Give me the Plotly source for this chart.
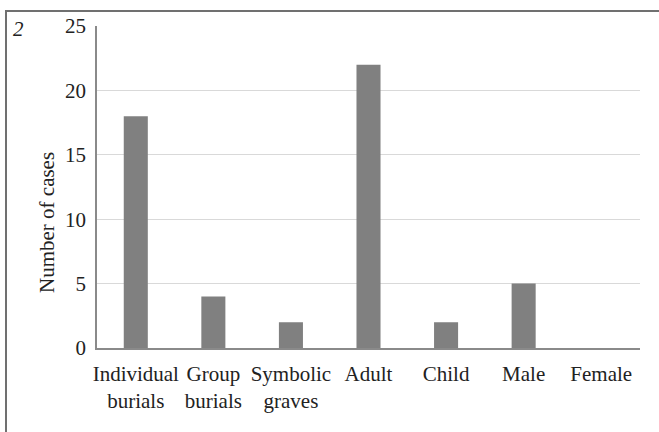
import plotly.graph_objects as go

categories = ["Individual<br>burials", "Group<br>burials", "Symbolic<br>graves", "Adult", "Child", "Male", "Female"]
values = [18, 4, 2, 22, 2, 5, 0]
y_ticks = [0, 5, 10, 15, 20, 25]

W, H = 659, 432
L, R, T, B = 97, 19, 26, 84
pw, ph = W - L - R, H - T - B

def px_x(p):
    return (p - L) / pw

def px_y(q):
    return (H - B - q) / ph

FAM = "Liberation Serif"
TXT = dict(family=FAM, size=21, color="#222222")

fig = go.Figure(go.Bar(x=categories, y=values, marker=dict(color="#808080", line=dict(width=0)), width=0.31))

fig.update_layout(
    width=W, height=H,
    margin=dict(l=L, r=R, t=T, b=B, autoexpand=False),
    paper_bgcolor="white", plot_bgcolor="white",
    font=TXT,
    showlegend=False,
    bargap=0.69,
    xaxis=dict(showline=True, linecolor="#8a8a8a", linewidth=1.5, ticks="", showgrid=False,
               automargin=False, tickfont=TXT, ticklabelstandoff=6),
    yaxis=dict(range=[0, 25], tickvals=y_ticks, showline=True, linecolor="#8a8a8a", linewidth=1.5,
               showgrid=True, gridcolor="#d9d9d9", gridwidth=1, ticks="", zeroline=False,
               automargin=False, tickfont=TXT, ticklabelstandoff=5),
)

fig.add_shape(type="rect", xref="paper", yref="paper",
              x0=px_x(6), x1=px_x(700), y0=px_y(480), y1=px_y(11),
              line=dict(color="#707070", width=2), fillcolor="rgba(0,0,0,0)", layer="above")

fig.add_annotation(text="Number of cases", xref="paper", yref="paper",
                   x=px_x(47), y=px_y(223), textangle=-90, showarrow=False,
                   font=TXT, xanchor="center", yanchor="middle")
fig.add_annotation(text="<i>2</i>", xref="paper", yref="paper",
                   x=px_x(18), y=px_y(29), showarrow=False,
                   font=TXT, xanchor="center", yanchor="middle")

fig.write_html("out.html", config={"displayModeBar": False},
               post_script="document.body.style.margin='0';document.body.style.overflow='hidden';")
